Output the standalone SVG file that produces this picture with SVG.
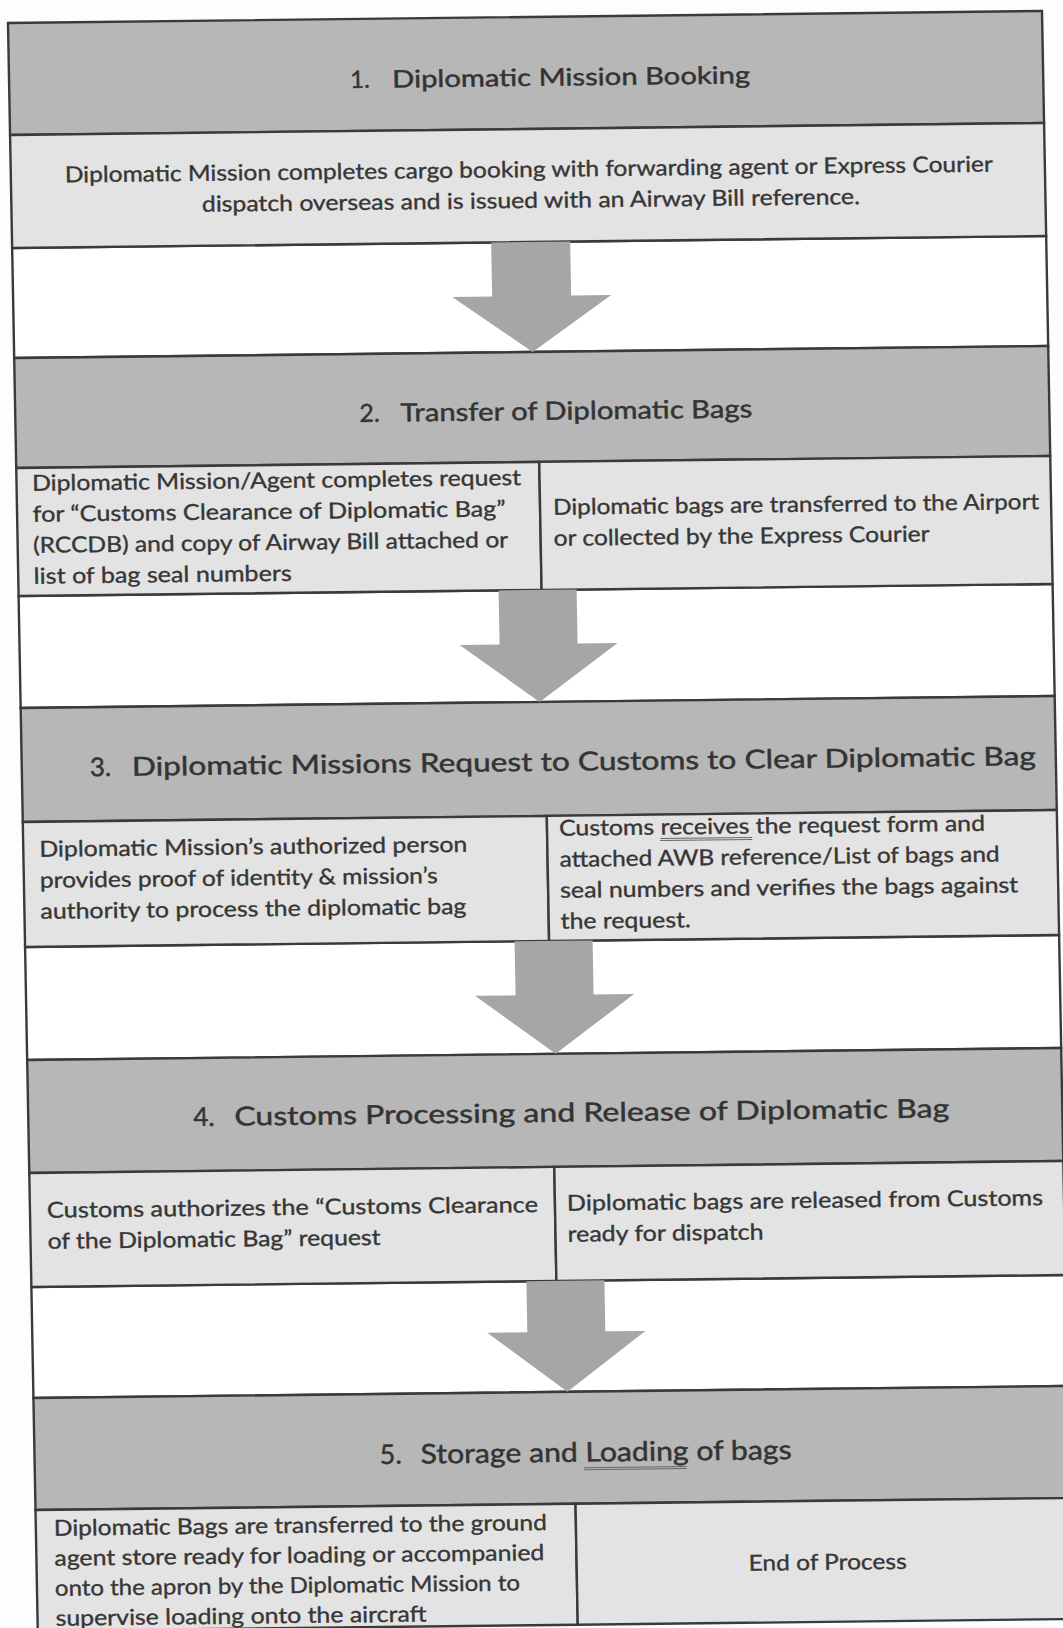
<svg xmlns="http://www.w3.org/2000/svg" width="1063" height="1628" viewBox="0 0 1063 1628">
<style>
.hdr{fill:#b7b7b7;stroke:#3a3a3a;stroke-width:2.4}
.dsc{fill:#e3e3e3;stroke:#3a3a3a;stroke-width:2.4}
.gap{fill:#ffffff;stroke:#3a3a3a;stroke-width:2.4}
.arr{fill:#a6a6a6}
.ht{font-family:Lato,"Liberation Sans",sans-serif;fill:#333333;stroke:#333333;stroke-width:0.45}
.bt{font-family:Lato,"Liberation Sans",sans-serif;font-size:22px;fill:#363636;stroke:#363636;stroke-width:0.35}
.ul{stroke:#666;stroke-width:1}
</style>
<rect width="1063" height="1628" fill="#fdfdfd"/>
<g transform="matrix(1,-0.0116,0.0185,1,-0.43,0.09)">
  <g id="gaps">
    <rect class="gap" x="8" y="248" width="1034" height="110"/>
    <rect class="gap" x="8" y="596" width="1034" height="112"/>
    <rect class="gap" x="8" y="947" width="1034" height="113"/>
    <rect class="gap" x="8" y="1287" width="1034" height="111"/>
  </g>
  <g id="step1-header">
    <rect class="hdr" x="8" y="23" width="1034" height="112"/>
    <text class="ht" font-size="24" x="349" y="92">1.</text>
    <text class="ht" font-size="24" x="391" y="92" textLength="358" lengthAdjust="spacingAndGlyphs">Diplomatic Mission Booking</text>
  </g>
  <g id="step1-desc">
    <rect class="dsc" x="8" y="135" width="1034" height="113"/>
    <text class="bt" x="62" y="183" textLength="928" lengthAdjust="spacingAndGlyphs">Diplomatic Mission completes cargo booking with forwarding agent or Express Courier</text>
    <text class="bt" x="198.5" y="214" textLength="658" lengthAdjust="spacingAndGlyphs">dispatch overseas and is issued with an Airway Bill reference.</text>
  </g>
  <g id="step2-header">
    <rect class="hdr" x="8" y="358" width="1034" height="110"/>
    <text class="ht" font-size="25" x="352" y="426">2.</text>
    <text class="ht" font-size="25" x="393" y="426" textLength="352" lengthAdjust="spacingAndGlyphs">Transfer of Diplomatic Bags</text>
  </g>
  <g id="step2-left">
    <rect class="dsc" x="8" y="468" width="523" height="128"/>
    <text class="bt" x="23.5" y="491" textLength="489" lengthAdjust="spacingAndGlyphs">Diplomatic Mission/Agent completes request</text>
    <text class="bt" x="23.5" y="522" textLength="473" lengthAdjust="spacingAndGlyphs">for “Customs Clearance of Diplomatic Bag”</text>
    <text class="bt" x="23.5" y="553" textLength="475" lengthAdjust="spacingAndGlyphs">(RCCDB) and copy of Airway Bill attached or</text>
    <text class="bt" x="23.5" y="584" textLength="258" lengthAdjust="spacingAndGlyphs">list of bag seal numbers</text>
  </g>
  <g id="step2-right">
    <rect class="dsc" x="531" y="468" width="511" height="128"/>
    <text class="bt" x="544" y="521" textLength="486" lengthAdjust="spacingAndGlyphs">Diplomatic bags are transferred to the Airport</text>
    <text class="bt" x="544" y="552" textLength="376" lengthAdjust="spacingAndGlyphs">or collected by the Express Courier</text>
  </g>
  <g id="step3-header">
    <rect class="hdr" x="8" y="708" width="1034" height="114"/>
    <text class="ht" font-size="26" x="76" y="777">3.</text>
    <text class="ht" font-size="26" x="118" y="777" textLength="904" lengthAdjust="spacingAndGlyphs">Diplomatic Missions Request to Customs to Clear Diplomatic Bag</text>
  </g>
  <g id="step3-left">
    <rect class="dsc" x="8" y="822" width="524" height="125"/>
    <text class="bt" x="24" y="857" textLength="428" lengthAdjust="spacingAndGlyphs">Diplomatic Mission’s authorized person</text>
    <text class="bt" x="24" y="888" textLength="398" lengthAdjust="spacingAndGlyphs">provides proof of identity &amp; mission’s</text>
    <text class="bt" x="24" y="919" textLength="426" lengthAdjust="spacingAndGlyphs">authority to process the diplomatic bag</text>
  </g>
  <g id="step3-right">
    <rect class="dsc" x="532" y="822" width="510" height="125"/>
    <text class="bt" x="544" y="842" textLength="426" lengthAdjust="spacingAndGlyphs">Customs receives the request form and</text>
    <line class="ul" x1="645" y1="846" x2="737" y2="846"/>
    <line class="ul" x1="645" y1="848" x2="737" y2="848"/>
    <text class="bt" x="544" y="873" textLength="440" lengthAdjust="spacingAndGlyphs">attached AWB reference/List of bags and</text>
    <text class="bt" x="544" y="904" textLength="458" lengthAdjust="spacingAndGlyphs">seal numbers and verifies the bags against</text>
    <text class="bt" x="544" y="935" textLength="130" lengthAdjust="spacingAndGlyphs">the request.</text>
  </g>
  <g id="step4-header">
    <rect class="hdr" x="8" y="1060" width="1034" height="113"/>
    <text class="ht" font-size="26" x="173" y="1128">4.</text>
    <text class="ht" font-size="26" x="214" y="1128" textLength="715" lengthAdjust="spacingAndGlyphs">Customs Processing and Release of Diplomatic Bag</text>
  </g>
  <g id="step4-left">
    <rect class="dsc" x="8" y="1173" width="525" height="114"/>
    <text class="bt" x="25" y="1218" textLength="491" lengthAdjust="spacingAndGlyphs">Customs authorizes the “Customs Clearance</text>
    <text class="bt" x="25" y="1249" textLength="333" lengthAdjust="spacingAndGlyphs">of the Diplomatic Bag” request</text>
  </g>
  <g id="step4-right">
    <rect class="dsc" x="533" y="1173" width="509" height="114"/>
    <text class="bt" x="545" y="1217" textLength="476" lengthAdjust="spacingAndGlyphs">Diplomatic bags are released from Customs</text>
    <text class="bt" x="545" y="1248" textLength="196" lengthAdjust="spacingAndGlyphs">ready for dispatch</text>
  </g>
  <g id="step5-header">
    <rect class="hdr" x="8" y="1398" width="1034" height="112"/>
    <text class="ht" font-size="27" x="353" y="1468">5.</text>
    <text class="ht" font-size="27" x="394" y="1468" textLength="371" lengthAdjust="spacingAndGlyphs">Storage and Loading of bags</text>
    <line class="ul" x1="557" y1="1474" x2="660" y2="1474"/>
    <line class="ul" x1="557" y1="1476" x2="660" y2="1476"/>
  </g>
  <g id="step5-left">
    <rect class="dsc" x="8" y="1510" width="540" height="121"/>
    <text class="bt" x="26" y="1536" textLength="493" lengthAdjust="spacingAndGlyphs">Diplomatic Bags are transferred to the ground</text>
    <text class="bt" x="26" y="1566" textLength="490" lengthAdjust="spacingAndGlyphs">agent store ready for loading or accompanied</text>
    <text class="bt" x="26" y="1596" textLength="465" lengthAdjust="spacingAndGlyphs">onto the apron by the Diplomatic Mission to</text>
    <text class="bt" x="26" y="1626" textLength="371" lengthAdjust="spacingAndGlyphs">supervise loading onto the aircraft</text>
  </g>
  <g id="step5-right">
    <rect class="dsc" x="548" y="1510" width="494" height="121"/>
    <text class="bt" x="720" y="1579" textLength="158" lengthAdjust="spacingAndGlyphs">End of Process</text>
  </g>
  <g id="connectors">
    <polygon class="arr" points="487,248 566,248 566,302 606,302 526.5,358 447,302 487,302"/>
    <polygon class="arr" points="488,596 566,596 566,650 606,650 527,708 448,650 488,650"/>
    <polygon class="arr" points="497.5,947 575.5,947 575.5,1001 616,1001 536.5,1060 457,1001 497.5,1001"/>
    <polygon class="arr" points="503,1287 581,1287 581,1338 621,1338 542,1398 463,1338 503,1338"/>
  </g>
</g>
</svg>
